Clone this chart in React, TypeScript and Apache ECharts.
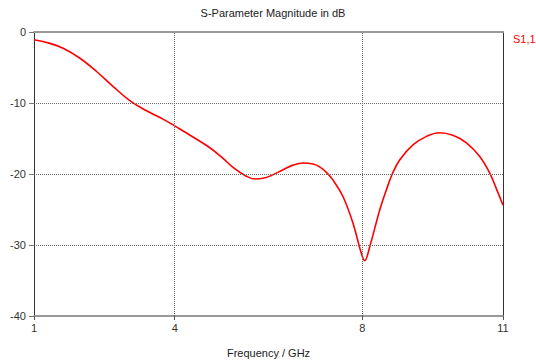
import React, { useEffect, useRef } from "react";
import * as echarts from "echarts";

const freqGHz = [
  1.0, 1.34, 1.62, 1.98, 2.34, 2.69, 3.05, 3.4, 3.76, 4.07, 4.32, 4.75, 5.03, 5.25, 5.5, 5.71,
  5.89, 6.03, 6.31, 6.52, 6.74, 6.95, 7.09, 7.24, 7.38, 7.59, 7.8, 7.98, 8.05, 8.16, 8.37, 8.52,
  8.64, 8.8, 9.08, 9.37, 9.65, 9.93, 10.22, 10.5, 10.72, 10.86, 11.0,
];
const s11dB = [
  -1.1, -1.6, -2.3, -3.7, -5.6, -7.7, -9.7, -11.1, -12.3, -13.5, -14.5, -16.3, -17.8, -19.1, -20.2,
  -20.7, -20.6, -20.3, -19.4, -18.75, -18.45, -18.6, -19.0, -19.8, -20.9, -23.2, -26.9, -31.2, -32.2,
  -30.2, -25.1, -22.1, -20.0, -18.0, -15.9, -14.7, -14.2, -14.55, -15.6, -17.5, -19.9, -22.1, -24.4,
];
const xTickValues = [1, 4, 8, 11];
const xGridValues = [4, 8];
const yGridValues = [-10, -20, -30];
const seriesName = "S1,1";

const FONT = "Liberation Sans";

export default function App() {
  const ref = useRef<HTMLDivElement>(null);
  useEffect(() => {
    if (!ref.current) return;
    const chart = echarts.init(ref.current, undefined, { renderer: "svg" });
    const data = freqGHz.map((f, i) => [f, s11dB[i]]);
    const gridLineStyle = { type: "dotted" as const, color: "#666", width: 1 };
    chart.setOption({
      animation: false,
      backgroundColor: "#fff",
      title: {
        text: "S-Parameter Magnitude in dB",
        left: 268,
        textAlign: "center",
        top: 2,
        textStyle: { fontFamily: FONT, fontSize: 11, fontWeight: "normal", color: "#222" },
      },
      legend: {
        data: [{ name: seriesName }],
        left: 503,
        top: 28,
        itemWidth: 0,
        itemHeight: 0,
        icon: "rect",
        textStyle: { fontFamily: FONT, fontSize: 11, color: "#ff0000" },
      },
      grid: { left: 34, right: 33, top: 32, bottom: 48, containLabel: false },
      xAxis: [
        {
          type: "value",
          min: 1,
          max: 11,
          interval: 1,
          name: "Frequency / GHz",
          nameLocation: "middle",
          nameGap: 31,
          nameTextStyle: { fontFamily: FONT, fontSize: 11, color: "#222" },
          axisLine: { show: true, onZero: false, lineStyle: { color: "#999", width: 2 } },
          axisTick: { show: true, length: 4, customValues: xTickValues, lineStyle: { color: "#555" } },
          axisLabel: {
            customValues: xTickValues,
            margin: 6,
            fontFamily: FONT,
            fontSize: 11,
            color: "#333",
          },
          splitLine: { show: false },
        },
        {
          type: "value",
          position: "top",
          min: 1,
          max: 11,
          axisLine: { show: true, onZero: false, lineStyle: { color: "#999", width: 2 } },
          axisTick: { show: false },
          axisLabel: { show: false },
          splitLine: { show: false },
        },
      ],
      yAxis: [
        {
          type: "value",
          min: -40,
          max: 0,
          interval: 10,
          axisLine: { show: true, onZero: false, lineStyle: { color: "#333", width: 1 } },
          axisTick: { show: true, length: 5, lineStyle: { color: "#777" } },
          axisLabel: { margin: 8, fontFamily: FONT, fontSize: 11, color: "#333" },
          splitLine: { show: false },
        },
        {
          type: "value",
          position: "right",
          min: -40,
          max: 0,
          axisLine: { show: true, onZero: false, lineStyle: { color: "#333", width: 1 } },
          axisTick: { show: false },
          axisLabel: { show: false },
          splitLine: { show: false },
        },
      ],
      series: [
        {
          name: seriesName,
          type: "line",
          data,
          smooth: 0.4,
          symbol: "none",
          lineStyle: { color: "#ff0000", width: 1.6 },
          itemStyle: { color: "#ff0000" },
          markLine: {
            silent: true,
            symbol: "none",
            label: { show: false },
            lineStyle: gridLineStyle,
            data: [
              ...xGridValues.map((v) => ({ xAxis: v })),
              ...yGridValues.map((v) => ({ yAxis: v })),
            ],
          },
          z: 3,
        },
      ],
    });
    return () => chart.dispose();
  }, []);
  return <div ref={ref} style={{ width: 536, height: 364, position: "absolute", left: 0, top: 0 }} />;
}
